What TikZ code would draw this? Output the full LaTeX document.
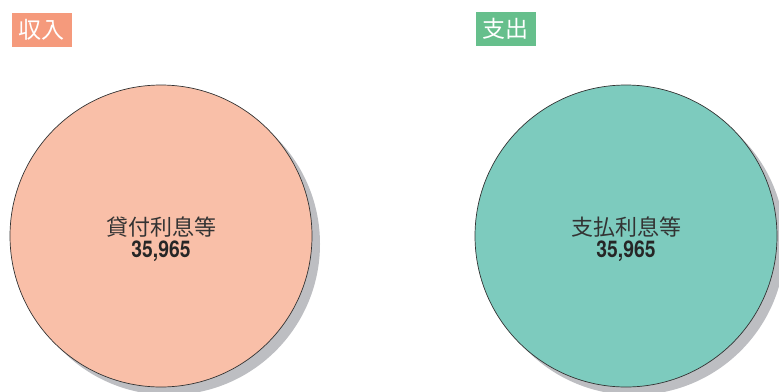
\documentclass[tikz,border=0pt]{standalone}
\usepackage{fontspec}
\setmainfont{Noto Sans CJK JP}
\newfontfamily\numfont[FakeStretch=0.84]{TeX Gyre Heros}
\usetikzlibrary{shadows}

\definecolor{incomefill}{HTML}{F9BFA8}
\definecolor{incometag}{HTML}{F59A7C}
\definecolor{outgofill}{HTML}{7DCBBE}
\definecolor{outgotag}{HTML}{66BF8C}
\definecolor{shadowgray}{HTML}{BDBEC2}
\definecolor{textgray}{HTML}{333333}

\begin{document}
\begin{tikzpicture}[x=1pt, y=-1pt]
		\tikzset{
			pie/.style={
				circle,
				draw=black!80,
				line width=0.7pt,
				minimum size=302pt,
				inner sep=0pt,
				drop shadow={shadow xshift=8pt, shadow yshift=-8pt,
					fill=shadowgray, opacity=1}
			},
			tag/.style={
				rectangle,
				minimum width=60pt,
				minimum height=34pt,
				inner sep=0pt,
				text=white,
				font=\fontsize{23}{27}\selectfont
			},
			item/.style={
				text=textgray,
				inner sep=0pt,
				font=\fontsize{22}{26}\selectfont
			},
			amount/.style={
				text=black!85,
				inner sep=0pt,
				font=\numfont\bfseries\fontsize{23}{26}\selectfont
			}
		}

		\useasboundingbox (0, 0) rectangle (779, 391);

		\node[tag, fill=incometag] (income) at (42, 29.5)
			{収入};
		\node[tag, fill=outgotag] (outgo) at (505.5, 29)
			{支出};

		\node[pie, fill=incomefill] (incomepie) at (161, 236) {};
		\node[pie, fill=outgofill] (outgopie) at (626, 236) {};

		\node[item] (lending) at (161, 227)
			{貸付利息等};
		\node[amount] (lendingval) at (161, 251.5)
			{35,965};

		\node[item] (paying) at (626, 227)
			{支払利息等};
		\node[amount] (payingval) at (626, 251.5)
			{35,965};

	\end{tikzpicture}
\end{document}
